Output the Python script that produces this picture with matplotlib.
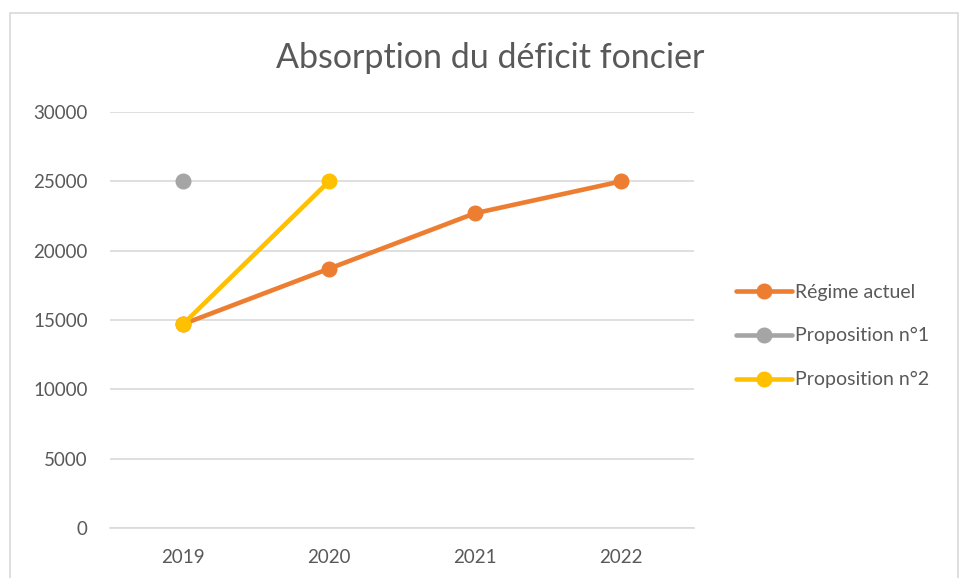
import matplotlib
matplotlib.use("Agg")
import matplotlib.pyplot as plt
from matplotlib.patches import Rectangle

plt.rcParams['font.family'] = ['Lato', 'DejaVu Sans']

# data
years = ["2019", "2020", "2021", "2022"]
regime_actuel = [14700, 18700, 22700, 25000]
proposition_1 = [25000, None, None, None]
proposition_2 = [14700, 25000, None, None]

series = [
    ("Régime actuel", regime_actuel, "#ED7D31"),
    ("Proposition n°1", proposition_1, "#A5A5A5"),
    ("Proposition n°2", proposition_2, "#FFC000"),
]

fig = plt.figure(figsize=(9.59, 5.78), dpi=100)
ax = fig.add_axes([0.1147, 0.0865, 0.609, 0.7197])

x = list(range(len(years)))
for name, vals, color in series:
    xs = [i for i, v in zip(x, vals) if v is not None]
    ys = [v for v in vals if v is not None]
    ax.plot(xs, ys, color=color, lw=3.3, marker="o", markersize=10.5,
            solid_capstyle="round", label=name, zorder=3)

ax.set_xlim(-0.5, 3.5)
ax.set_ylim(0, 30000)
ax.set_yticks(range(0, 30001, 5000))
ax.set_xticks(x)
ax.set_xticklabels(years)
ax.grid(axis="y", color="#D9D9D9", lw=1.2)
ax.set_axisbelow(True)
for s in ["top", "right", "left"]:
    ax.spines[s].set_visible(False)
ax.spines["bottom"].set_color("#D9D9D9")
ax.spines["bottom"].set_linewidth(1.2)
ax.tick_params(length=0, labelsize=13.5, colors="#595959")
ax.tick_params(axis="y", pad=16)
ax.tick_params(axis="x", pad=15)

fig.text(0.511, 0.9, "Absorption du déficit foncier", ha="center", va="center",
         fontsize=24.5, color="#595959")

leg = fig.legend(loc="center left", bbox_to_anchor=(0.757, 0.4187), frameon=False,
                 fontsize=14, labelcolor="#595959", handlelength=2.9,
                 handletextpad=0.15, labelspacing=1.38, borderpad=0)

# chart border
fig.patches.append(Rectangle((10 / 959, -0.1), 947.5 / 959, (578 - 13) / 578 + 0.1,
                             transform=fig.transFigure, fill=False,
                             edgecolor="#D9D9D9", lw=1.2))

fig.savefig("out.png", dpi=100)
